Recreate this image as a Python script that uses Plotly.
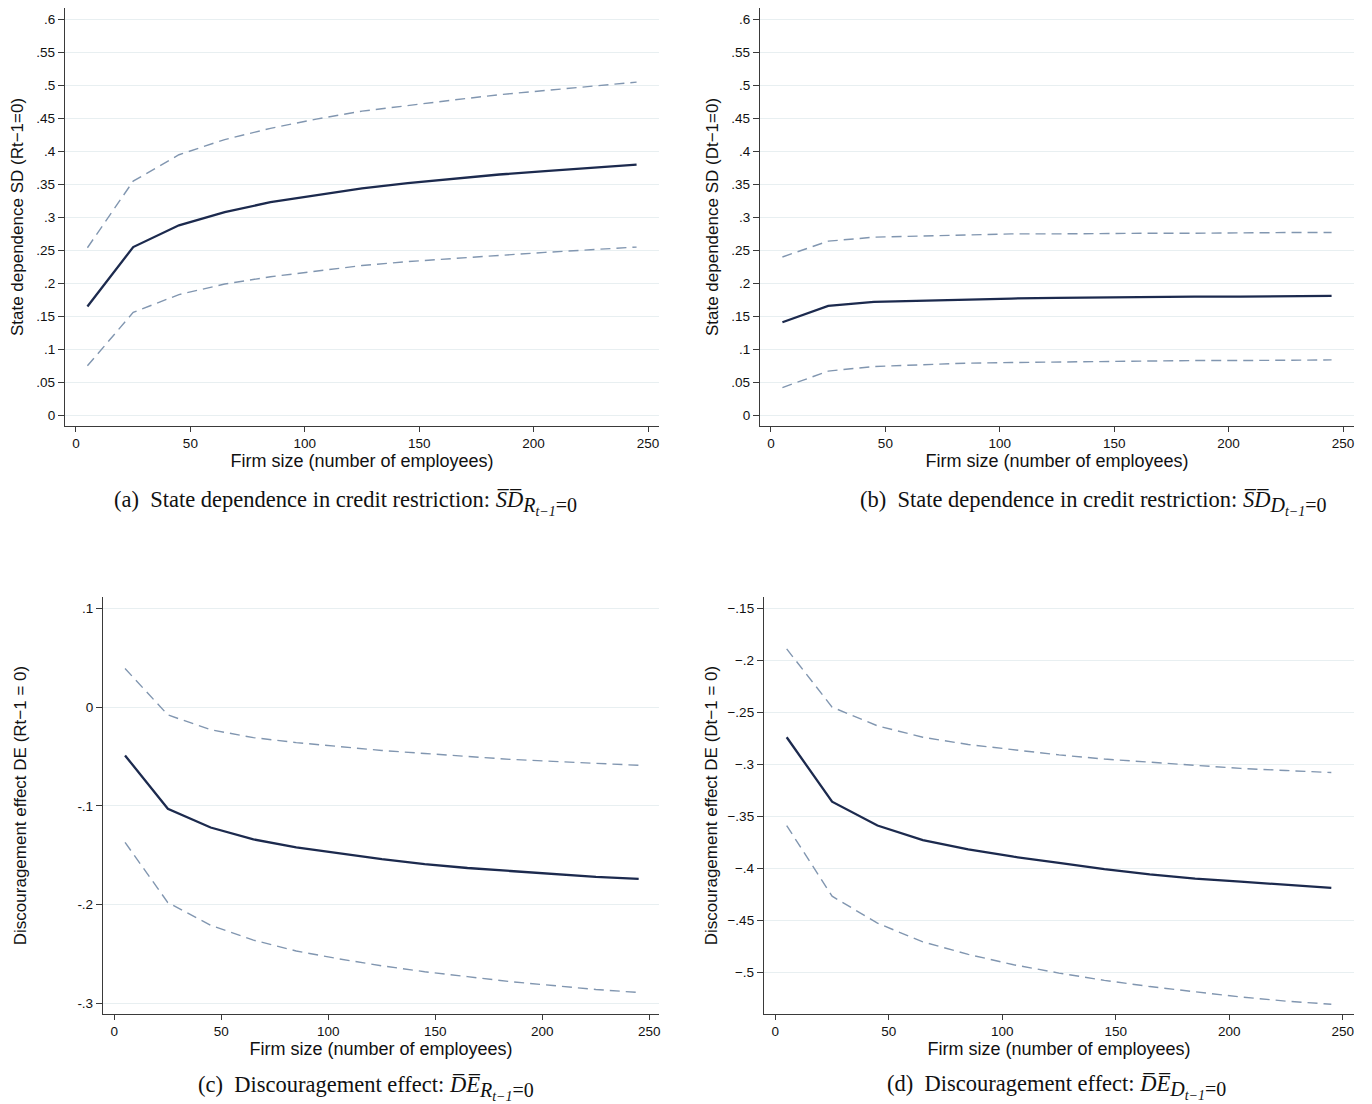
import plotly.graph_objects as go

# reference canvas size; the page body adds an 8px margin, so the figure is offset
W, H = 1372, 1104
OFF = 8
FW, FH = W - OFF, H - OFF

firm_size = [5, 25, 45, 65, 85, 105, 125, 145, 165, 185, 205, 225, 245]

mean_a = [0.165, 0.255, 0.288, 0.308, 0.323, 0.334, 0.344, 0.352, 0.359, 0.365, 0.370, 0.375, 0.380]
upper_a = [0.254, 0.355, 0.395, 0.418, 0.435, 0.449, 0.461, 0.470, 0.478, 0.486, 0.492, 0.498, 0.505]
lower_a = [0.075, 0.156, 0.183, 0.199, 0.210, 0.219, 0.227, 0.233, 0.238, 0.243, 0.247, 0.251, 0.255]

mean_b = [0.141, 0.166, 0.172, 0.174, 0.176, 0.177, 0.178, 0.179, 0.179, 0.180, 0.180, 0.180, 0.181]
upper_b = [0.240, 0.264, 0.270, 0.272, 0.274, 0.275, 0.275, 0.276, 0.276, 0.276, 0.277, 0.277, 0.277]
lower_b = [0.042, 0.067, 0.074, 0.077, 0.079, 0.080, 0.081, 0.082, 0.082, 0.083, 0.083, 0.083, 0.084]

mean_c = [-0.049, -0.103, -0.122, -0.134, -0.142, -0.148, -0.154, -0.159, -0.163, -0.166, -0.169, -0.172, -0.174]
upper_c = [0.039, -0.008, -0.023, -0.031, -0.036, -0.040, -0.044, -0.047, -0.050, -0.053, -0.055, -0.057, -0.059]
lower_c = [-0.137, -0.198, -0.221, -0.236, -0.247, -0.255, -0.262, -0.268, -0.273, -0.278, -0.282, -0.286, -0.289]

mean_d = [-0.274, -0.336, -0.359, -0.373, -0.382, -0.389, -0.395, -0.401, -0.406, -0.410, -0.413, -0.416, -0.419]
upper_d = [-0.189, -0.245, -0.263, -0.274, -0.281, -0.286, -0.291, -0.295, -0.298, -0.301, -0.304, -0.306, -0.308]
lower_d = [-0.359, -0.427, -0.453, -0.471, -0.483, -0.493, -0.501, -0.508, -0.514, -0.519, -0.524, -0.528, -0.531]

x_ticks = [0, 50, 100, 150, 200, 250]
x_ticktext = ["0", "50", "100", "150", "200", "250"]

sd_ticks = [0, 0.05, 0.1, 0.15, 0.2, 0.25, 0.3, 0.35, 0.4, 0.45, 0.5, 0.55, 0.6]
sd_ticktext = ["0", ".05", ".1", ".15", ".2", ".25", ".3", ".35", ".4", ".45", ".5", ".55", ".6"]

de_r_ticks = [-0.3, -0.2, -0.1, 0, 0.1]
de_r_ticktext = ["-.3", "-.2", "-.1", "0", ".1"]

de_d_ticks = [-0.5, -0.45, -0.4, -0.35, -0.3, -0.25, -0.2, -0.15]
de_d_ticktext = ["\u2212.5", "\u2212.45", "\u2212.4", "\u2212.35", "\u2212.3", "\u2212.25", "\u2212.2", "\u2212.15"]

y_titles = ["State dependence SD (Rt\u22121=0)", "State dependence SD (Dt\u22121=0)",
            "Discouragement effect DE (Rt\u22121 = 0)", "Discouragement effect DE (Dt\u22121 = 0)"]
x_title = "Firm size (number of employees)"

SUB_STYLE = "font-size:20px"
captions = [
    "(a)  State dependence in credit restriction: <i>S\u0305D\u0305</i><sub><span style=\"" + SUB_STYLE + "\"><i>R<sub>t\u22121</sub></i>=0</span></sub>",
    "(b)  State dependence in credit restriction: <i>S\u0305D\u0305</i><sub><span style=\"" + SUB_STYLE + "\"><i>D<sub>t\u22121</sub></i>=0</span></sub>",
    "(c)  Discouragement effect: <i>D\u0305E\u0305</i><sub><span style=\"" + SUB_STYLE + "\"><i>R<sub>t\u22121</sub></i>=0</span></sub>",
    "(d)  Discouragement effect: <i>D\u0305E\u0305</i><sub><span style=\"" + SUB_STYLE + "\"><i>D<sub>t\u22121</sub></i>=0</span></sub>",
]

MEAN_COLOR = "#1c2a4e"
CI_COLOR = "#8196b0"
GRID_COLOR = "#e8eff1"
AXIS_COLOR = "#3a3a3a"
SANS = "Liberation Sans, Arial, sans-serif"
SERIF = "Liberation Serif, Times New Roman, serif"

# panel geometry in reference pixels: (x0, x1, ytop, ybottom)
panels = [
    (65, 659, 8, 426),
    (760, 1354, 8, 426),
    (103, 659, 597, 1014),
    (764, 1354, 597, 1014),
]
x_ranges = [[-4.8, 254.8], [-4.8, 254.8], [-5.3, 254.5], [-5.0, 255.0]]
y_ranges = [[-0.0162, 0.6174], [-0.0162, 0.6174], [-0.3108, 0.1114], [-0.5404, -0.139]]
y_tickinfo = [(sd_ticks, sd_ticktext), (sd_ticks, sd_ticktext),
              (de_r_ticks, de_r_ticktext), (de_d_ticks, de_d_ticktext)]
y_standoff = [8, 8, 46, 5]
series = [(mean_a, upper_a, lower_a), (mean_b, upper_b, lower_b),
          (mean_c, upper_c, lower_c), (mean_d, upper_d, lower_d)]
caption_pos = [(345, 503), (1093, 503), (366, 1088), (1056, 1087)]


def px_x(x):
    return (x - OFF) / FW


def px_y(y):
    return 1 - (y - OFF) / FH


fig = go.Figure()
layout = dict(
    width=FW, height=FH,
    margin=dict(l=0, r=0, t=0, b=0),
    paper_bgcolor="white", plot_bgcolor="white",
    showlegend=False,
    font=dict(family=SANS, color="#000000"),
)

annotations = []
for i, (px, (m, u, l)) in enumerate(zip(panels, series)):
    n = "" if i == 0 else str(i + 1)
    xa, ya = "x" + n, "y" + n
    x0, x1, yt, yb = px
    for vals, color, width, dash in [(u, CI_COLOR, 1.4, "10px,6px"),
                                      (l, CI_COLOR, 1.4, "10px,6px"),
                                      (m, MEAN_COLOR, 2.3, "solid")]:
        fig.add_trace(go.Scatter(x=firm_size, y=vals, mode="lines", xaxis=xa, yaxis=ya,
                                 line=dict(color=color, width=width, dash=dash),
                                 hoverinfo="skip"))
    layout["xaxis" + n] = dict(
        domain=[px_x(x0), px_x(x1)], anchor=ya, range=x_ranges[i],
        tickmode="array", tickvals=x_ticks, ticktext=x_ticktext,
        ticks="outside", ticklen=5, tickwidth=1, tickcolor=AXIS_COLOR,
        showline=True, linecolor=AXIS_COLOR, linewidth=1.3,
        showgrid=False, zeroline=False,
        tickfont=dict(size=13.5, family=SANS, color="#111"),
        title=dict(text=x_title, font=dict(size=18, family=SANS, color="#111"), standoff=0),
        automargin=False,
    )
    tv, tt = y_tickinfo[i]
    layout["yaxis" + n] = dict(
        domain=[px_y(yb), px_y(yt)], anchor=xa, range=y_ranges[i],
        tickmode="array", tickvals=tv, ticktext=tt,
        ticks="outside", ticklen=6, tickwidth=1, tickcolor=AXIS_COLOR,
        showline=True, linecolor=AXIS_COLOR, linewidth=1.3,
        showgrid=True, gridcolor=GRID_COLOR, gridwidth=1.3, zeroline=False,
        tickfont=dict(size=13.5, family=SANS, color="#111"),
        title=dict(text=y_titles[i], font=dict(size=17, family=SANS, color="#111"),
                   standoff=y_standoff[i]),
        automargin=False,
    )
    cx, cy = caption_pos[i]
    annotations.append(dict(text=captions[i], x=px_x(cx), y=px_y(cy), xref="paper", yref="paper",
                            xanchor="center", yanchor="middle", showarrow=False,
                            font=dict(family=SERIF, size=22.5, color="#111")))

layout["annotations"] = annotations
fig.update_layout(**layout)
fig.write_html("out.html")
